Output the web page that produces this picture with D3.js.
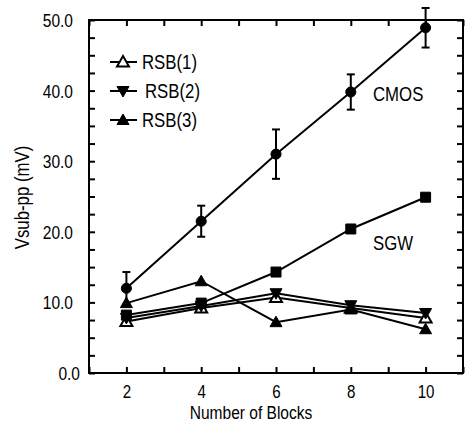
<!DOCTYPE html>
<html><head><meta charset="utf-8">
<script src="https://cdn.jsdelivr.net/npm/d3@7"></script>
<style>
body{margin:0;background:#fff;}
text{font-family:"Liberation Sans",Arial,Helvetica,sans-serif;fill:#000;}
</style></head><body>
<svg id="c" width="469" height="424"></svg>
<script>
const blocks = [2, 4, 6, 8, 10];
const cmos = [12.0, 21.5, 31.0, 39.8, 48.9];
const cmosErr = [2.3, 2.2, 3.5, 2.5, 2.8];
const sgw = [8.2, 9.9, 14.3, 20.4, 24.9];
const rsb1 = [7.3, 9.2, 10.7, 9.2, 7.8];
const rsb2 = [7.8, 9.5, 11.3, 9.6, 8.5];
const rsb3 = [9.9, 13.0, 7.2, 9.0, 6.2];
const yTickLabels = [0, 10, 20, 30, 40, 50];
const xTickLabels = [2, 4, 6, 8, 10];
const legendNames = ["RSB(1)", "RSB(2)", "RSB(3)"];
const seriesLabels = ["CMOS", "SGW"];

const S = 0.84; // horizontal condensing of text (narrow Helvetica look)
const svg = d3.select("#c");
const L = 89, R = 463, T = 20, B = 373;
const x = d3.scaleLinear().domain([1, 11]).range([L, R]);
const y = d3.scaleLinear().domain([0, 50]).range([B, T]);

const minorX = d3.range(1, 12, 1);
const minorY = d3.range(0, 50.01, 2.5);

function ctext(parent, px, py, str, size, anchor) {
  return parent.append("text")
    .attr("transform", `translate(${px},${py}) scale(${S},1)`)
    .attr("text-anchor", anchor || "start").attr("font-size", size).text(str);
}

// frame
svg.append("rect").attr("x", L).attr("y", T).attr("width", R - L).attr("height", B - T)
  .attr("fill", "none").attr("stroke", "#000").attr("stroke-width", 2);

const tk = 6;
function ticksOnly(g) { g.select(".domain").remove(); g.selectAll(".tick line").attr("stroke", "#000").attr("stroke-width", 2); g.selectAll("text").remove(); }
svg.append("g").attr("transform", `translate(0,${B})`).call(d3.axisBottom(x).tickValues(minorX).tickSize(-tk)).call(ticksOnly);
svg.append("g").attr("transform", `translate(0,${T})`).call(d3.axisTop(x).tickValues(minorX).tickSize(-tk)).call(ticksOnly);
svg.append("g").attr("transform", `translate(${L},0)`).call(d3.axisLeft(y).tickValues(minorY).tickSize(-tk)).call(ticksOnly);
svg.append("g").attr("transform", `translate(${R},0)`).call(d3.axisRight(y).tickValues(minorY).tickSize(-tk)).call(ticksOnly);

function condense(g) {
  g.selectAll(".tick text").each(function () {
    const t = d3.select(this);
    const tx = +t.attr("x") || 0, ty = +t.attr("y") || 0;
    t.attr("x", null).attr("y", null)
      .attr("transform", `translate(${tx},${ty}) scale(${S},1)`);
  });
}
const xl = svg.append("g").attr("transform", `translate(0,${B})`)
  .call(d3.axisBottom(x).tickValues(xTickLabels).tickSize(0).tickPadding(12).tickFormat(d3.format("d")));
xl.select(".domain").remove();
xl.selectAll("text").attr("font-size", 18).attr("font-family", null).attr("fill", "#000");
condense(xl);
const yl = svg.append("g").attr("transform", `translate(${L},0)`)
  .call(d3.axisLeft(y).tickValues(yTickLabels).tickSize(0).tickPadding(16).tickFormat(d3.format(".1f")));
yl.select(".domain").remove();
yl.selectAll("text").attr("font-size", 18.5).attr("font-family", null).attr("fill", "#000").attr("dy", "0.35em");
yl.selectAll(".tick text").attr("x", d => d === 0 ? -9 : -16);
condense(yl);

ctext(svg, 251, 419, "Number of Blocks", 18.5, "middle");
svg.append("text").attr("transform", `translate(29,${(T + B) / 2 + 1}) rotate(-90) scale(${S},1)`)
  .attr("text-anchor", "middle").attr("font-size", 20).text("Vsub-pp (mV)");

const line = d3.line().x((d, i) => x(blocks[i])).y(d => y(d));
function drawLine(vals) {
  svg.append("path").datum(vals).attr("d", line).attr("fill", "none")
    .attr("stroke", "#000").attr("stroke-width", 2);
}
[cmos, sgw, rsb1, rsb2, rsb3].forEach(drawLine);

// error bars
const eb = svg.append("g").attr("stroke", "#000").attr("stroke-width", 2);
cmos.forEach((v, i) => {
  const cx = x(blocks[i]);
  eb.append("line").attr("x1", cx).attr("x2", cx).attr("y1", y(v - cmosErr[i])).attr("y2", y(v + cmosErr[i]));
  eb.append("line").attr("x1", cx - 4).attr("x2", cx + 4).attr("y1", y(v - cmosErr[i])).attr("y2", y(v - cmosErr[i]));
  eb.append("line").attr("x1", cx - 4).attr("x2", cx + 4).attr("y1", y(v + cmosErr[i])).attr("y2", y(v + cmosErr[i]));
});

const symCircle = d3.symbol().type(d3.symbolCircle).size(80);
const symSquare = d3.symbol().type(d3.symbolSquare).size(100);
const triUp = "M0,-6L6,4.5L-6,4.5Z";
const triDown = "M0,6L6,-4.5L-6,-4.5Z";

function markers(vals, pathD, fill) {
  svg.append("g").selectAll("path").data(vals).join("path")
    .attr("transform", (d, i) => `translate(${x(blocks[i])},${y(d)})`)
    .attr("d", pathD).attr("fill", fill).attr("stroke", "#000").attr("stroke-width", fill === "#fff" ? 2 : 1);
}
markers(rsb1, triUp, "#fff");
markers(rsb2, triDown, "#000");
markers(rsb3, triUp, "#000");
markers(sgw, symSquare(), "#000");
markers(cmos, symCircle(), "#000");

// legend
const legShapes = [[triUp, "#fff"], [triDown, "#000"], [triUp, "#000"]];
const legY = [62, 91, 120];
const legTX = [142, 145, 142];
legendNames.forEach((n, i) => {
  svg.append("line").attr("x1", 110).attr("x2", 137).attr("y1", legY[i]).attr("y2", legY[i])
    .attr("stroke", "#000").attr("stroke-width", 2);
  svg.append("path").attr("transform", `translate(123,${legY[i]})`).attr("d", legShapes[i][0])
    .attr("fill", legShapes[i][1]).attr("stroke", "#000").attr("stroke-width", legShapes[i][1] === "#fff" ? 2 : 1);
  ctext(svg, legTX[i], legY[i] + 7, n, 20);
});

ctext(svg, 373, 101, seriesLabels[0], 20);
ctext(svg, 373, 250, seriesLabels[1], 20);
</script></body></html>
